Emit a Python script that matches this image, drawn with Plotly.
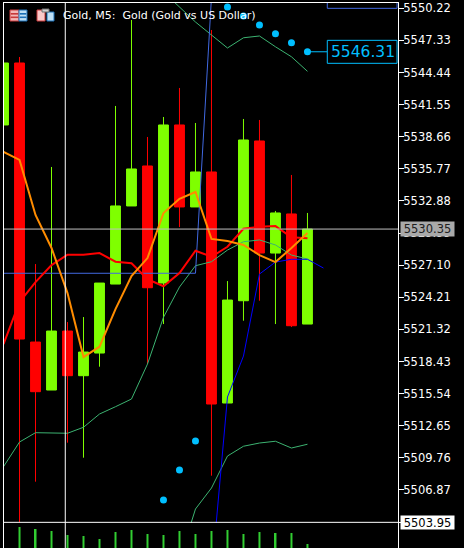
import plotly.graph_objects as go

idx = list(range(20))
opens = [5539.72,5545.30,5520.18,5515.86,5521.17,5517.15,5519.19,5525.40,5532.43,5536.03,
         5525.49,5539.72,5532.34,5535.49,5514.69,5523.90,5538.28,5528.19,5531.71,5521.80]
closes = [5545.30,5520.45,5515.71,5521.17,5517.15,5519.28,5525.49,5532.43,5535.76,5525.07,
          5539.72,5532.34,5535.49,5514.60,5523.96,5538.37,5528.19,5531.80,5521.65,5530.35]
highs = [5545.30,5545.84,5527.20,5535.94,5521.98,5522.43,5525.49,5541.43,5549.17,5538.64,
         5540.44,5543.05,5539.90,5548.27,5525.67,5540.26,5540.17,5531.98,5535.22,5531.80]
lows = [5539.72,5503.98,5507.61,5515.86,5511.12,5509.77,5517.96,5525.40,5532.43,5518.20,
        5521.80,5530.53,5532.34,5508.15,5514.69,5522.10,5523.90,5521.80,5521.53,5521.80]
orange_ma = [5537.29,5536.57,5531.62,5528.65,5524.59,5518.83,5519.76,5523.15,5526.12,5527.74,
             5531.80,5533.08,5533.69,5529.46,5529.28,5528.92,5528.01,5527.38,5528.65,5530.00]
red_ma = [5520.00,5523.78,5525.58,5527.11,5528.04,5528.04,5528.19,5527.41,5527.27,5525.85,
          5525.20,5526.39,5528.40,5527.86,5528.76,5530.38,5530.56,5530.62,5529.61,5529.52]
band_mid = [5508.96,5511.18,5512.02,5512.02,5511.97,5512.51,5513.70,5514.36,5515.05,5518.20,
            5522.41,5525.13,5527.05,5527.41,5528.46,5529.21,5529.37,5528.92,5528.01,5527.65]
band_up_x = [10,11,12,13,14,15,16,17,18,19]
band_up = [5551.69,5550.34,5548.99,5547.82,5546.65,5547.57,5547.73,5546.76,5545.86,5544.55]
band_low_x = [11,12,13,14,15,16,17,18,19]
band_low = [5500.57,5505.15,5507.04,5509.92,5510.80,5511.09,5511.25,5510.64,5510.98]
royal_x = [0,1,2,3,4,5,6,7,8,9,10,11,12,13]
royal = [5526.37]*13 + [5551.24]
deep_x = [13,14,15,16,17,18,19,20]
deep = [5499.12,5515.23,5518.92,5526.30,5527.38,5527.63,5527.63,5526.84]
dots_x = [9,10,11,12,14,15,16,17,18,19]
dots = [5503.08,5505.96,5508.66,5511.27,5550.34,5549.53,5548.72,5547.93,5547.12,5546.31]
vol_x = list(range(1,20))
volumes = [210,190,170,130,120,90,160,180,140,130,170,140,170,180,140,160,150,150,40]
tick_vals = [5550.22,5547.33,5544.44,5541.55,5538.66,5535.77,5532.88,5529.99,5527.10,
             5524.21,5521.32,5518.43,5515.54,5512.65,5509.76,5506.87,5503.98]
price_line = 5530.35
cross_price = 5503.95
cross_x = 3.86
title = "Gold, M5:  Gold (Gold vs US Dollar)"
box_left, box_right = 20.24, 24.6

W, H = 464, 548
L, R, T, B = 4, 398, 3, 548
PW, PH = R - L, B - T
def px(x): return (x - L) / PW
def py(y): return (B - y) / PH

fig = go.Figure()
fig.add_trace(go.Bar(x=vol_x, y=volumes, yaxis="y2", width=0.125,
                     marker=dict(color="#32CD32", line_width=0), hoverinfo="skip"))
fig.add_trace(go.Candlestick(x=idx, open=opens, high=highs, low=lows, close=closes,
    increasing=dict(line=dict(color="#7FFF00", width=1), fillcolor="#7FFF00"),
    decreasing=dict(line=dict(color="#FF0000", width=1), fillcolor="#FF0000"),
    whiskerwidth=0))
def line(x, y, color, width):
    fig.add_trace(go.Scatter(x=x, y=y, mode="lines", line=dict(color=color, width=width),
                             hoverinfo="skip"))
line(idx, band_mid, "#3CB371", 1)
line(band_up_x, band_up, "#3CB371", 1)
line(band_low_x, band_low, "#3CB371", 1)
line(royal_x, royal, "#4169E1", 1)
line(deep_x, deep, "#0000FF", 1)
line(idx, red_ma, "#FF0000", 2)
line(idx, orange_ma, "#FF8C00", 2)
fig.add_trace(go.Scatter(x=dots_x, y=dots, mode="markers",
                         marker=dict(color="#00BFFF", size=7), hoverinfo="skip"))
fig.add_trace(go.Scatter(x=[22.42], y=[5551.10], mode="text", text=["5551.10"], cliponaxis=True,
                         textfont=dict(color="#4169E1", size=15.5, family="DejaVu Sans"),
                         textposition="middle center", hoverinfo="skip"))

shapes = [
    dict(type="line", xref="paper", x0=0, x1=1, yref="y", y0=price_line, y1=price_line,
         line=dict(color="#C0C0C0", width=1), layer="above"),
    dict(type="line", xref="paper", x0=0, x1=1, yref="y", y0=cross_price, y1=cross_price,
         line=dict(color="#FFFFFF", width=1), layer="above"),
    dict(type="line", yref="paper", y0=0, y1=1, xref="x", x0=cross_x, x1=cross_x,
         line=dict(color="#FFFFFF", width=1), layer="above"),
    dict(type="line", xref="x", x0=19, x1=box_left, yref="y", y0=5546.31, y1=5546.31,
         line=dict(color="#00BFFF", width=1), layer="above"),
    dict(type="rect", xref="x", x0=box_left, x1=box_right, yref="y", y0=5545.27, y1=5547.34,
         line=dict(color="#00BFFF", width=1), fillcolor="#000000", layer="above"),
    dict(type="rect", xref="x", x0=box_left, x1=box_right, yref="y", y0=5550.22, y1=5552,
         line=dict(color="#4169E1", width=1), fillcolor="rgba(0,0,0,0)", layer="above"),
]
def icon(x0, y0, x1, y1, fill, edge=None):
    shapes.append(dict(type="rect", xref="paper", yref="paper", x0=px(x0), x1=px(x1),
                       y0=py(y1), y1=py(y0), fillcolor=fill,
                       line=dict(color=edge or fill, width=1), layer="above"))
# table icon
icon(10, 10, 19, 21, "#F4B6B6", "#C8393B")
icon(19, 10, 27, 21, "#BFE0F5", "#1B6FB5")
for yy in (13.5, 17):
    icon(11, yy, 18, yy + 0.6, "#C8393B")
    icon(20, yy, 26, yy + 0.6, "#1B6FB5")
# profile icon
icon(37, 10, 45, 21, "#F9C9C9", "#C8393B")
icon(47, 12, 54, 21, "#BFE0F5", "#1B6FB5")
icon(42, 9, 49, 12, "#D0D0D0", "#707070")

def note(text, x, y, color="#FFFFFF", size=11, **kw):
    return dict(text=text, xref="paper", yref="paper", x=px(x), y=py(y), showarrow=False,
                xanchor=kw.pop("xanchor", "left"), yanchor="middle",
                font=dict(color=color, size=size, family="DejaVu Sans"), **kw)
annotations = [
    note(title, 61, 16),
    note("5546.31", 363, 52, color="#00BFFF", size=15.5, xanchor="center"),
    note(f"{price_line:.2f}", 427.8, 229.2, color="#202020", size=11.5, xanchor="center",
         bgcolor="#A9A9A9", width=53, height=14, borderpad=0),
    note(f"{cross_price:.2f}", 427.8, 522.3, color="#000000", size=11.5, xanchor="center",
         bgcolor="#FFFFFF", width=53, height=13, borderpad=0),
]

fig.update_layout(
    width=W, height=H, margin=dict(l=L, r=W - R, t=T, b=H - B),
    paper_bgcolor="#000000", plot_bgcolor="#000000", showlegend=False, boxgap=0.12,
    shapes=shapes, annotations=annotations, hovermode=False,
    xaxis=dict(range=[0.03, 24.66], showgrid=False, zeroline=False, showticklabels=False,
               ticks="", rangeslider=dict(visible=False), showline=True, mirror=True,
               linecolor="#FFFFFF", linewidth=1),
    yaxis=dict(range=[5501.64, 5550.70], side="right", showgrid=False, zeroline=False,
               tickmode="array", tickvals=tick_vals, ticktext=[f"{v:.2f}" for v in tick_vals],
               ticks="outside", ticklen=5, tickwidth=1, tickcolor="#FFFFFF", ticklabelstandoff=-3,
               tickfont=dict(color="#FFFFFF", size=11.5, family="DejaVu Sans"),
               showline=True, mirror=True, linecolor="#FFFFFF", linewidth=1),
    yaxis2=dict(domain=[0, 25 / PH], range=[0, 250], visible=False, anchor="x"),
)
fig.write_html("out.html", config=dict(displayModeBar=False),
               post_script="document.body.style.margin='0';document.body.style.background='#000';")
